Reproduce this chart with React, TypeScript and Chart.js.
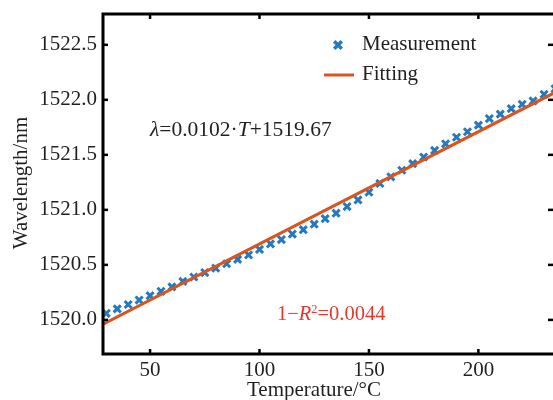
import React, { useEffect, useRef } from "react";
import { Chart, registerables } from "chart.js";

Chart.register(...registerables);

// Measurement temperatures (°C)
const temps = [30, 35, 40, 45, 50, 55, 60, 65, 70, 75, 80, 85, 90, 95, 100, 105, 110, 115, 120, 125, 130, 135, 140, 145, 150, 155, 160, 165, 170, 175, 180, 185, 190, 195, 200, 205, 210, 215, 220, 225, 230, 235];
// Measured wavelengths (nm)
const wavelengths = [1520.06, 1520.10, 1520.14, 1520.18, 1520.22, 1520.26, 1520.30, 1520.35, 1520.39, 1520.43, 1520.47, 1520.51, 1520.55, 1520.59, 1520.64, 1520.69, 1520.73, 1520.78, 1520.82, 1520.87, 1520.92, 1520.97, 1521.03, 1521.09, 1521.16, 1521.24, 1521.30, 1521.36, 1521.42, 1521.48, 1521.54, 1521.60, 1521.66, 1521.71, 1521.77, 1521.83, 1521.87, 1521.92, 1521.96, 1521.99, 1522.05, 1522.10];
// Linear fit end points
const fitT = [28.5, 235];
const fitV = [1519.961, 1522.067];
// Axis ticks
const xTicks = [50, 100, 150, 200];
const yTicks = [1520.0, 1520.5, 1521.0, 1521.5, 1522.0, 1522.5];

const BLUE = "#2479bf";
const RED = "#d9541f";
const TEXT = "#231f20";
const SERIF = '"Liberation Serif", "Times New Roman", serif';

type Run = { t: string; i?: boolean; sup?: boolean };

function drawRuns(ctx: CanvasRenderingContext2D, runs: Run[], x: number, y: number, size: number, color: string) {
  ctx.fillStyle = color;
  ctx.textBaseline = "middle";
  ctx.textAlign = "left";
  let cx = x;
  for (const r of runs) {
    const s = r.sup ? size * 0.6 : size;
    ctx.font = `${r.i ? "italic " : ""}${s}px ${SERIF}`;
    ctx.fillText(r.t, cx, r.sup ? y - size * 0.25 : y);
    cx += ctx.measureText(r.t).width;
  }
}

const framePlugin = {
  id: "frame",
  afterDatasetsDraw(chart: any) {
    const { ctx, chartArea: a, scales } = chart;
    ctx.save();
    ctx.strokeStyle = "#000";
    ctx.lineWidth = 3;
    ctx.strokeRect(a.left, a.top, a.right - a.left, a.bottom - a.top);
    ctx.lineWidth = 2.5;
    const L = 5;
    const seg = (x1: number, y1: number, x2: number, y2: number) => {
      ctx.beginPath();
      ctx.moveTo(x1, y1);
      ctx.lineTo(x2, y2);
      ctx.stroke();
    };
    scales.x.ticks.forEach((t: any) => {
      const px = scales.x.getPixelForValue(t.value);
      seg(px, a.bottom, px, a.bottom - L);
      seg(px, a.top, px, a.top + L);
    });
    scales.y.ticks.forEach((t: any) => {
      const py = scales.y.getPixelForValue(t.value);
      seg(a.left, py, a.left + L, py);
      seg(a.right, py, a.right - L - 2, py);
    });
    ctx.restore();
  },
  afterDraw(chart: any) {
    const { ctx } = chart;
    const ds = chart.data.datasets;
    ctx.save();
    // Legend
    const lx = 338, ly1 = 45, ly2 = 75;
    ctx.strokeStyle = BLUE;
    ctx.lineWidth = 3.4;
    const r = 3.8;
    ctx.beginPath();
    ctx.moveTo(lx - r, ly1 - r);
    ctx.lineTo(lx + r, ly1 + r);
    ctx.moveTo(lx + r, ly1 - r);
    ctx.lineTo(lx - r, ly1 + r);
    ctx.stroke();
    ctx.strokeStyle = RED;
    ctx.lineWidth = 3;
    ctx.beginPath();
    ctx.moveTo(324, ly2);
    ctx.lineTo(354, ly2);
    ctx.stroke();
    drawRuns(ctx, [{ t: ds[0].label }], 362, ly1 - 1, 21, TEXT);
    drawRuns(ctx, [{ t: ds[1].label }], 362, ly2 - 1, 21, TEXT);

    // Annotations
    drawRuns(ctx, [{ t: "λ", i: true }, { t: "=0.0102·" }, { t: "T", i: true }, { t: "+1519.67" }], 150, 130, 21.5, TEXT);
    drawRuns(ctx, [{ t: "1−" }, { t: "R", i: true }, { t: "2", sup: true }, { t: "=0.0044" }], 277, 315, 20.5, "#e8382d");

    // Axis titles
    ctx.fillStyle = TEXT;
    ctx.font = `21px ${SERIF}`;
    ctx.textAlign = "center";
    ctx.textBaseline = "alphabetic";
    ctx.fillText("Temperature/°C", 314, 396);
    ctx.translate(27, 183);
    ctx.rotate(-Math.PI / 2);
    ctx.fillText("Wavelength/nm", 0, 0);
    ctx.restore();
  },
};

export default function App() {
  const ref = useRef<HTMLCanvasElement | null>(null);
  useEffect(() => {
    if (!ref.current) return;
    const chart = new Chart(ref.current, {
      type: "scatter",
      data: {
        datasets: [
          {
            label: "Measurement",
            data: temps.map((t, i) => ({ x: t, y: wavelengths[i] })),
            pointStyle: "crossRot",
            pointRadius: 5,
            pointBorderWidth: 3,
            borderColor: BLUE,
            backgroundColor: BLUE,
            order: 2,
          },
          {
            label: "Fitting",
            data: fitT.map((t, i) => ({ x: t, y: fitV[i] })),
            showLine: true,
            borderColor: RED,
            borderWidth: 3,
            pointRadius: 0,
            order: 1,
          },
        ],
      } as any,
      options: {
        animation: false,
        responsive: false,
        devicePixelRatio: 1,
        layout: { padding: { top: 14, right: 5, left: 0, bottom: 0 } },
        plugins: { legend: { display: false }, tooltip: { enabled: false } },
        scales: {
          x: {
            type: "linear",
            min: 28.5,
            max: 235,
            grid: { display: false, drawTicks: false },
            border: { display: false },
            afterFit: (s: any) => { s.height = 46; s.paddingLeft = 0; s.paddingRight = 0; },
            afterBuildTicks: (s: any) => { s.ticks = xTicks.map((v) => ({ value: v })); },
            ticks: {
              padding: 4,
              color: TEXT,
              font: { family: SERIF, size: 21 },
              callback: (v: any) => String(v),
            },
          },
          y: {
            type: "linear",
            min: 1519.69,
            max: 1522.78,
            grid: { display: false, drawTicks: false },
            border: { display: false },
            afterFit: (s: any) => { s.width = 103; s.paddingTop = 0; s.paddingBottom = 0; },
            afterBuildTicks: (s: any) => { s.ticks = yTicks.map((v) => ({ value: v })); },
            ticks: {
              padding: 6,
              color: TEXT,
              font: { family: SERIF, size: 21 },
              callback: (v: any) => Number(v).toFixed(1),
            },
          },
        },
      } as any,
      plugins: [framePlugin],
    });
    return () => chart.destroy();
  }, []);
  return (
    <div style={{ position: "fixed", left: 0, top: 0, width: 553, height: 400, overflow: "hidden", background: "#fff" }}>
      <canvas ref={ref} width={563} height={400} style={{ width: 563, height: 400, display: "block" }} />
    </div>
  );
}
